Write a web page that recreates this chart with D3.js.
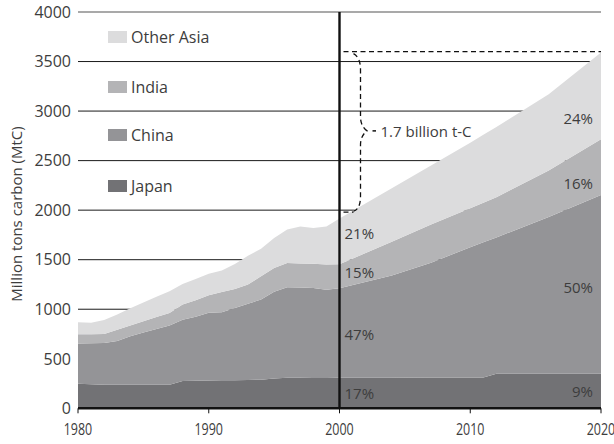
<!DOCTYPE html>
<html><head><meta charset="utf-8">
<script src="https://cdn.jsdelivr.net/npm/d3@7"></script>
<style>
html,body{margin:0;padding:0;background:#fff;}
svg{display:block;font-family:"Open Sans",sans-serif;}
</style></head>
<body><svg id="c" width="614" height="444"></svg>
<script>
// ---- data ----
const years = [1980,1981,1982,1983,1984,1985,1986,1987,1988,1989,1990,1991,1992,1993,1994,1995,1996,1997,1998,1999,2000,2004,2007,2010,2011,2012,2016,2020];
const japan = [248,242,238,238,238,238,238,238,275,278,280,282,284,286,289,302,308,308,307,306,308,309,310,311,312,349,349,349];
const china = [406,414,420,441,488,528,562,597,618,647,685,688,728,769,808,874,914,911,907,891,904,1031,1160,1314,1363,1376,1581,1804];
const india = [94,92,92,114,110,112,121,128,155,165,175,205,192,194,235,240,244,243,244,255,243,340,385,395,400,405,470,562];
const otherAsia = [120,116,140,155,174,190,204,219,207,215,218,215,252,291,279,302,339,373,362,383,460,540,595,660,685,710,770,875];
const seriesNames = ["Japan","China","India","Other Asia"];
const seriesColors = ["#727275","#949497","#b4b4b6","#dcdcdd"];
const yTicks = [0,500,1000,1500,2000,2500,3000,3500,4000];
const xTicks = [1980,1990,2000,2010,2020];
const leftPct = ["17%","47%","15%","21%"];
const rightPct = ["9%","50%","16%","24%"];
const yTitle = "Million tons carbon (MtC)";
const braceLabel = "1.7 billion t-C";
const gapTop = 3600, gapBottom = 1980;

// ---- build ----
const svg = d3.select("#c");
const x = d3.scaleLinear().domain([1980,2020]).range([78,601]);
const y = d3.scaleLinear().domain([0,4000]).range([408.3,12]);

const table = years.map((yr,i)=>({year:yr,"Japan":japan[i],"China":china[i],"India":india[i],"Other Asia":otherAsia[i]}));
const stack = d3.stack().keys(seriesNames)(table);

// gridlines
svg.append("g").selectAll("line").data(yTicks.filter(d=>d>0)).join("line")
  .attr("x1",x(1980)).attr("x2",x(2020))
  .attr("y1",d=>y(d)).attr("y2",d=>y(d))
  .attr("stroke",d=>d===4000?"#8c8c8c":"#1a1a1a")
  .attr("stroke-width",d=>d===4000?1.6:1);

// areas
const area = d3.area().x(d=>x(d.data.year)).y0(d=>y(d[0])).y1(d=>y(d[1]));
svg.append("g").selectAll("path").data(stack).join("path")
  .attr("d",area).attr("fill",(d,i)=>seriesColors[i]);

// y tick labels
svg.append("g").selectAll("text").data(yTicks).join("text")
  .attr("x",71).attr("y",d=>y(d)).attr("dy","0.36em")
  .attr("text-anchor","end").attr("font-size",16).attr("fill","#3d3d3d")
  .text(d=>d);

// y title
svg.append("text").attr("transform","translate(22,214) rotate(-90)")
  .attr("text-anchor","middle").attr("font-size",15).attr("fill","#3d3d3d").text(yTitle);

// vertical 2000 line
svg.append("line").attr("x1",x(2000)).attr("x2",x(2000)).attr("y1",y(4000)).attr("y2",y(0))
  .attr("stroke","#111").attr("stroke-width",2.4);

// x axis
svg.append("line").attr("x1",x(1980)).attr("x2",x(2020)).attr("y1",y(0)).attr("y2",y(0))
  .attr("stroke","#111").attr("stroke-width",2.6);
svg.append("g").selectAll("line").data(xTicks).join("line")
  .attr("x1",d=>x(d)).attr("x2",d=>x(d)).attr("y1",y(0)).attr("y2",y(0)+5)
  .attr("stroke","#111").attr("stroke-width",1);
svg.append("g").selectAll("text").data(xTicks).join("text")
  .attr("transform",d=>`translate(${x(d)},${y(0)+27}) scale(0.78,1)`)
  .attr("text-anchor","middle").attr("font-size",16).attr("fill","#3d3d3d").text(d=>d);

// legend
const legendOrder = [3,2,1,0];
const legendY = [37,87,135,186];
const lg = svg.append("g").selectAll("g").data(legendOrder).join("g")
  .attr("transform",(d,i)=>`translate(108,${legendY[i]})`);
lg.append("rect").attr("x",0).attr("y",-6).attr("width",19).attr("height",12).attr("fill",d=>seriesColors[d]);
lg.append("text").attr("x",23).attr("dy","0.36em").attr("font-size",16).attr("fill","#3d3d3d").text(d=>seriesNames[d]);

// percentage labels
const leftPos = [144,740,1366,1760];
const rightPos = [165,1214,2264,2920];
svg.append("g").selectAll("text").data(leftPct).join("text")
  .attr("x",x(2000)+5).attr("y",(d,i)=>y(leftPos[i])).attr("dy","0.36em")
  .attr("font-size",15).attr("fill","#3d3d3d").text(d=>d);
svg.append("g").selectAll("text").data(rightPct).join("text")
  .attr("x",x(2020)-8).attr("y",(d,i)=>y(rightPos[i])).attr("dy","0.36em")
  .attr("text-anchor","end").attr("font-size",15).attr("fill","#3d3d3d").text(d=>d);

// brace annotation
const xb = x(2000), yT = y(gapTop), yB = y(gapBottom), yM = (yT+yB)/2 - 1;
const dash = "5,3.5";
svg.append("line").attr("x1",xb+4).attr("x2",x(2020)).attr("y1",yT).attr("y2",yT)
  .attr("stroke","#111").attr("stroke-width",1.3).attr("stroke-dasharray",dash);
svg.append("line").attr("x1",xb+4).attr("x2",xb+14).attr("y1",yB).attr("y2",yB)
  .attr("stroke","#111").attr("stroke-width",1.3).attr("stroke-dasharray",dash);
const bp = d3.path();
bp.moveTo(xb+14,yT+2);
bp.quadraticCurveTo(xb+21,yT+6,xb+21,yT+18);
bp.lineTo(xb+21,yM-14);
bp.quadraticCurveTo(xb+21,yM-5,xb+27.5,yM);
bp.quadraticCurveTo(xb+21,yM+5,xb+21,yM+14);
bp.lineTo(xb+21,yB-16);
bp.quadraticCurveTo(xb+21,yB-3,xb+14,yB-1);
svg.append("path").attr("d",bp.toString()).attr("fill","none")
  .attr("stroke","#111").attr("stroke-width",1.3).attr("stroke-dasharray",dash);
svg.append("line").attr("x1",xb+33).attr("x2",xb+36.5).attr("y1",yM).attr("y2",yM)
  .attr("stroke","#111").attr("stroke-width",1.5);
svg.append("text").attr("x",xb+41).attr("y",yM+1).attr("dy","0.36em")
  .attr("font-size",15).attr("fill","#3d3d3d").text(braceLabel);
</script></body></html>
